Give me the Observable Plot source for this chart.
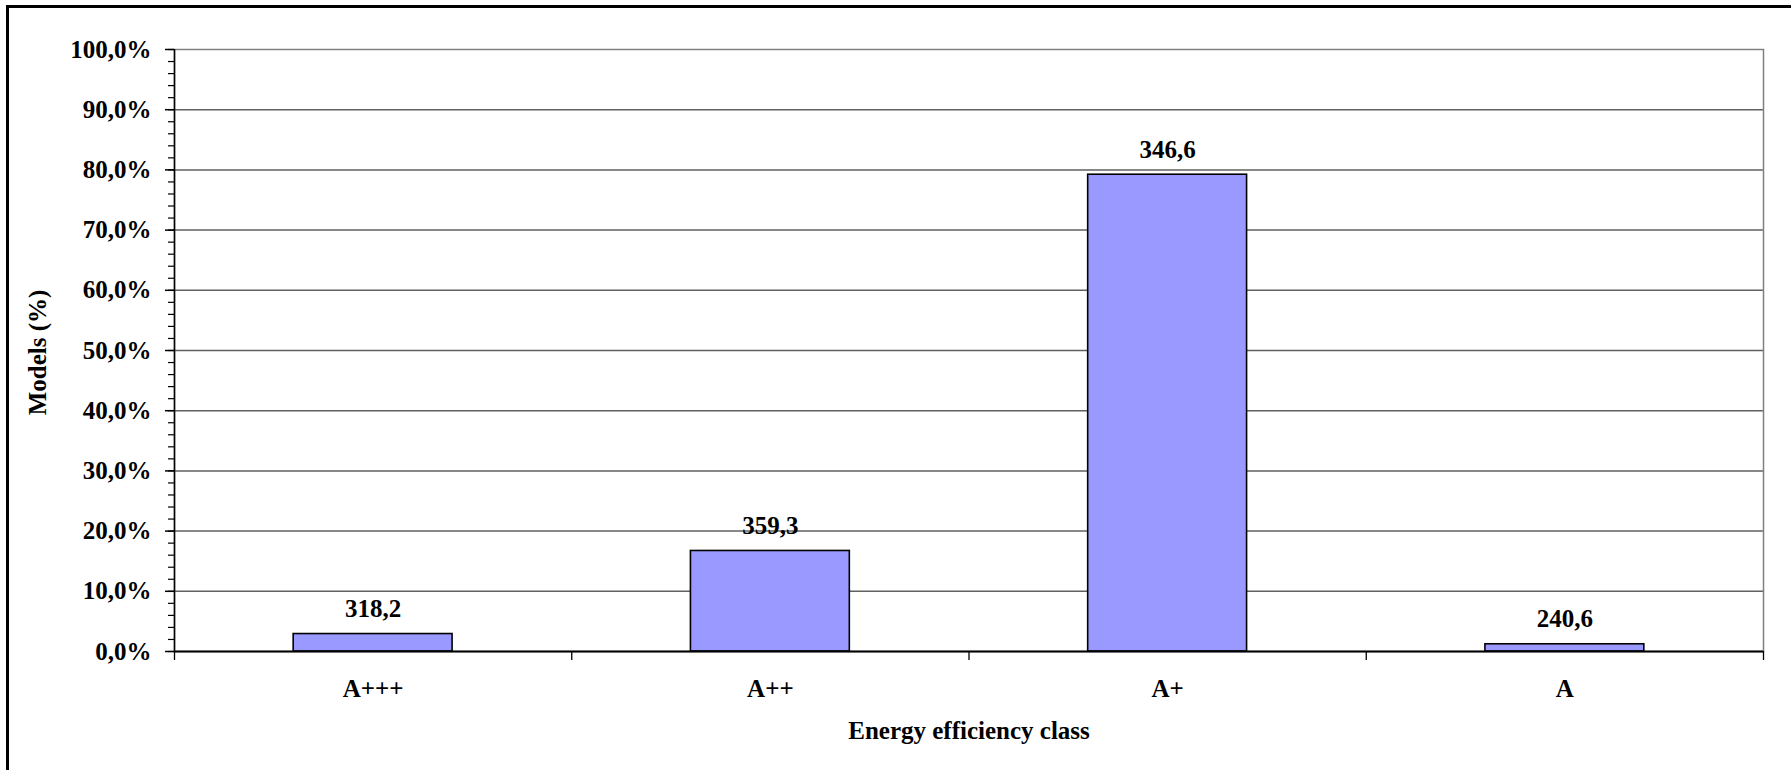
<!DOCTYPE html>
<html>
<head>
<meta charset="utf-8">
<script src="https://cdn.jsdelivr.net/npm/d3@7"></script>
<script src="https://cdn.jsdelivr.net/npm/@observablehq/plot@0.6"></script>
<style>
  html, body { margin: 0; padding: 0; background: #fff; overflow: hidden; }
  #page { position: relative; width: 1791px; height: 770px; }
  #border {
    position: absolute; left: 6px; top: 5px; width: 2000px; height: 1000px;
    border: 3px solid #000; box-sizing: border-box; pointer-events: none;
  }
  #chart { position: absolute; left: 0; top: 0; }
</style>
</head>
<body>
<div id="page">
  <div id="chart"></div>
  <div id="border"></div>
</div>
<script>
// Share of models per energy efficiency class, with mean consumption shown above each bar
const classes = ["A+++", "A++", "A+", "A"];
const shares = [2.9, 16.7, 79.2, 1.2];            // % of models
const consumption = [318.2, 359.3, 346.6, 240.6];  // label above each bar
const yTicks = [0, 10, 20, 30, 40, 50, 60, 70, 80, 90, 100];

const rows = classes.map((c, i) => ({i, cls: c, share: shares[i], consumption: consumption[i]}));

const font = "'Liberation Serif', 'Times New Roman', serif";
const comma = (v, digits) => v.toFixed(digits).replace(".", ",");

const chart = Plot.plot({
  width: 1791,
  height: 770,
  marginLeft: 174,
  marginRight: 28,
  marginTop: 49,
  marginBottom: 119,
  style: {fontFamily: font, fontSize: "25px", fontWeight: "bold", color: "#000", background: "transparent"},
  x: {domain: [0, classes.length], label: null},
  y: {domain: [0, 100], label: null},
  marks: [
    // horizontal gridlines
    Plot.gridY(yTicks.filter(t => t > 0 && t < 100), {stroke: "#606060", strokeOpacity: 1, strokeWidth: 1.5}),
    // plot-area border (top and right show through)
    Plot.frame({stroke: "#808080", strokeWidth: 1.5}),
    // bars
    Plot.rectY(rows, {
      x1: d => d.i + 0.3, x2: d => d.i + 0.7, y1: 0, y2: "share",
      fill: "#9999ff", stroke: "#000", strokeWidth: 1.6
    }),
    // value labels
    Plot.text(rows, {
      x: d => d.i + 0.5, y: "share", text: d => comma(d.consumption, 1),
      lineAnchor: "bottom", dy: -17, fontSize: 25, fontWeight: "bold", fill: "#000"
    }),
    // axis lines
    Plot.ruleX([0], {stroke: "#000", strokeWidth: 1.5}),
    Plot.ruleY([0], {stroke: "#000", strokeWidth: 2}),
    // y minor ticks
    Plot.axisY(d3.range(0, 101, 2), {tickSize: 6, fill: "none", stroke: "#000", strokeWidth: 1.2, label: null}),
    // y major ticks with labels
    Plot.axisY(yTicks, {
      tickSize: 9, tickPadding: 14, stroke: "#000", strokeWidth: 1.5, fill: "#000",
      tickFormat: d => comma(d, 1) + "%", fontSize: 25, fontWeight: "bold", label: null
    }),
    // x category boundary ticks
    Plot.axisX(d3.range(0, classes.length + 1), {tickSize: 9, fill: "none", stroke: "#000", strokeWidth: 1.3, label: null}),
    // x category labels
    Plot.axisX(classes.map((c, i) => i + 0.5), {
      tickSize: 0, tickPadding: 28, fill: "#000",
      tickFormat: v => classes[Math.floor(v)], fontSize: 25, fontWeight: "bold", label: null
    }),
    // axis titles
    Plot.text(["Energy efficiency class"], {
      frameAnchor: "bottom", textAnchor: "middle", lineAnchor: "top", dy: 70,
      fontSize: 25, fontWeight: "bold", fill: "#000"
    }),
    Plot.text(["Models (%)"], {
      frameAnchor: "left", textAnchor: "middle", lineAnchor: "middle", rotate: -90, dx: -137, dy: 2,
      fontSize: 25, fontWeight: "bold", fill: "#000"
    })
  ]
});

document.getElementById("chart").appendChild(chart);
</script>
</body>
</html>
